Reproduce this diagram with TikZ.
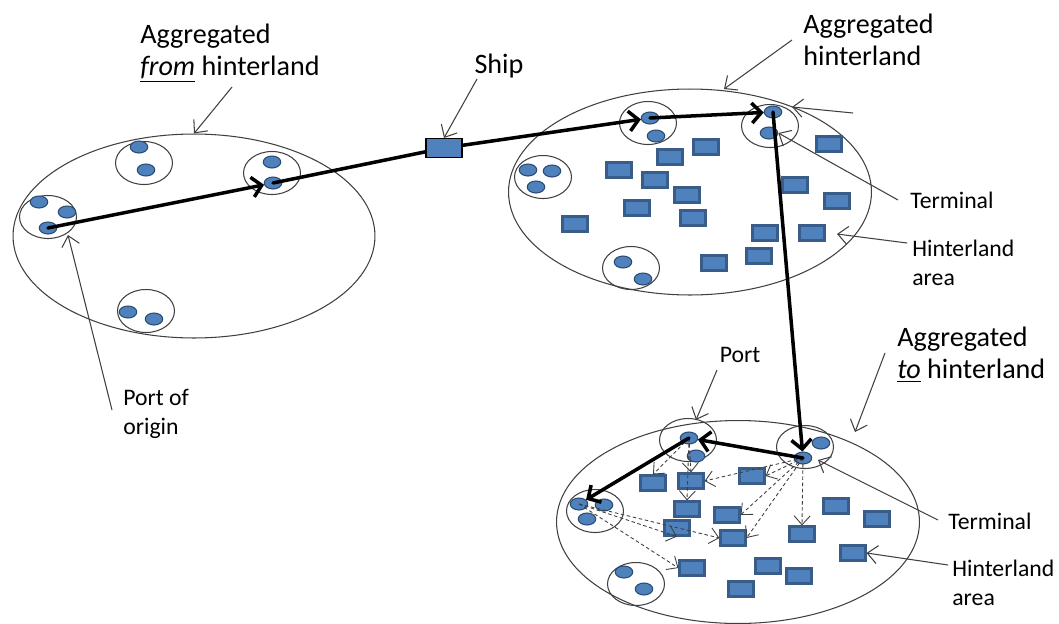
\documentclass[tikz,border=0pt]{standalone}
\usepackage{fontspec}
\setmainfont{Carlito}
\usetikzlibrary{shapes.geometric,arrows.meta}
\definecolor{dotblue}{HTML}{4F81BD}
\definecolor{boxedge}{HTML}{385D8A}
\definecolor{dotedge}{HTML}{2A4A70}
\definecolor{lineg}{HTML}{404040}
\begin{document}
\begin{tikzpicture}[x=0.02cm,y=-0.02cm,
  area/.style={ellipse,draw=lineg,line width=0.6pt,inner sep=0pt},
  port/.style={ellipse,draw=lineg,line width=0.6pt,inner sep=0pt,minimum width=1.14cm,minimum height=0.86cm},
  dot/.style={ellipse,draw=dotedge,fill=dotblue,line width=0.6pt,inner sep=0pt,minimum width=0.35cm,minimum height=0.24cm},
  box/.style={rectangle,draw=boxedge,fill=dotblue,line width=1.2pt,inner sep=0pt,minimum width=0.5cm,minimum height=0.3cm},
  labbig/.style={font=\fontsize{16}{18.2}\selectfont,align=left,inner sep=0pt},
  labsmall/.style={font=\fontsize{13.5}{16.5}\selectfont,align=left,inner sep=0pt},
  route/.style={line width=2pt,line cap=round},
  routeto/.style={route,-{Straight Barb[length=1.9mm,width=4mm]}},
  pointer/.style={draw=lineg,line width=0.6pt,-{Straight Barb[length=2mm,width=3.6mm]}},
  flow/.style={draw=black!75,line width=0.5pt,dash pattern=on 2pt off 1.5pt,-{Straight Barb[length=1.8mm,width=3.2mm]}}
]
\useasboundingbox (0,0) rectangle (1059,623);

% the three aggregated areas
\node[area,minimum width=7.24cm,minimum height=4.08cm] (fromreg) at (194,236) {};
\node[area,minimum width=7.26cm,minimum height=4.12cm] (hintreg) at (690,192) {};
\node[area,minimum width=7.26cm,minimum height=4.06cm] (toreg) at (738,522) {};

% ports and terminals
\foreach \n/\x/\y in {f1/48/217, f2/144/163, f3/272/173, f4/146/311,
                      h1/648/123, h2/770/126, h3/543/177, h4/631/268,
                      t1/688/440, t2/805/447, t3/595/511, t4/636/584}
  \node[port] (\n) at (\x,\y) {};

\foreach \n/\x/\y in {f1a/39/202, f1b/67/212, f1c/48/228, f2a/139/147, f2b/146/170,
                      f3a/272/162, f3b/273/183, f4a/128/312, f4b/154/319,
                      h1a/650/118, h1b/656/136, h2a/773/112, h2b/769/133,
                      h3a/528/170, h3b/552/171, h3c/536/187, h4a/623/262, h4b/643/279,
                      t1a/689/438, t1b/696/456, t2a/821/443, t2b/803/458,
                      t3a/579/504, t3b/604/505, t3c/587/519, t4a/624/572, t4b/644/589}
  \node[dot] (\n) at (\x,\y) {};

% hinterland locations
\foreach \n/\x/\y in {1/706/147, 2/670/157, 3/619/170, 4/655/180, 5/687/195,
                      6/637/208, 7/693/218, 8/575/224, 9/829/144, 10/795/185,
                      11/837/201, 12/765/233, 13/812/233, 14/714/263, 15/759/256}
  \node[box] (hb\n) at (\x,\y) {};

\foreach \n/\x/\y in {1/653/483, 2/691/481, 3/752/476, 4/687/509, 5/727/515,
                      6/677/528, 7/733/538, 8/802/534, 9/836/506, 10/877/519,
                      11/853/553, 12/692/568, 13/768/566, 14/799/576, 15/741/589}
  \node[box] (tb\n) at (\x,\y) {};

\node[rectangle,draw=black,fill=dotblue,line width=0.6pt,inner sep=0pt,
      minimum width=0.72cm,minimum height=0.38cm] (ship) at (444,148) {};

% distribution to the hinterland
\draw[flow] (t1a.center) -- (tb1.north);
\draw[flow] (t1a.center) -- (tb2.north);
\draw[flow] (t1a.center) -- (tb4.north);
\draw[flow] (t2b.center) -- (tb3.east);
\draw[flow] (t2b.center) -- (tb2.east);
\draw[flow] (t2b.center) -- (tb5.east);
\draw[flow] (t2b.center) -- (tb7.east);
\draw[flow] (t2b.center) -- (tb8.north);
\draw[flow] (t3a.center) -- (tb6.south);
\draw[flow] (t3a.center) -- (tb7.west);
\draw[flow] (t3a.center) -- (tb12.west);

% main route
\draw[routeto] (f1c.center) -- (f3b);
\draw[route] (f3b.center) -- (ship);
\draw[routeto] (ship) -- (h1a);
\draw[routeto] (h1a.center) -- (h2a);
\draw[routeto] (h2a.center) -- (t2b);
\draw[routeto] (t2b.center) -- (t1a);
\draw[routeto] (t1a.center) -- (t3a);

% labels
\node[labbig,anchor=west] (labA) at (140,53) {Aggregated\\\underline{\textit{from}} hinterland};
\node[labbig] (shiplab) at (499,66) {Ship};
\node[labbig,anchor=west] (labB) at (803,40) {Aggregated\\hinterland};
\node[labsmall,anchor=west] (term1) at (910,200) {Terminal};
\node[labsmall,anchor=west] (hint1) at (912,263) {Hinterland\\area};
\node[labsmall,anchor=west] (origin) at (123,414) {Port of\\origin};
\node[labsmall] (portlab) at (740,355) {Port};
\node[labbig,anchor=west] (labC) at (897,355) {Aggregated\\\underline{\textit{to}} hinterland};
\node[labsmall,anchor=west] (term2) at (948,521) {Terminal};
\node[labsmall,anchor=west] (hint2) at (952,583) {Hinterland\\area};

\coordinate (fromtail) at (232,87);
\coordinate (shiptail) at (477,79);
\coordinate (hinttail) at (792,40);
\coordinate (hinttip) at (724,89);
\coordinate (toptail) at (853,113);
\coordinate (toptip) at (792,107);
\coordinate (term1tail) at (898,200);
\coordinate (hint1tail) at (907,243);
\coordinate (hint1tip) at (837,234);
\coordinate (origintail) at (112,410);
\coordinate (origintip) at (68,235);
\coordinate (porttail) at (717,370);
\coordinate (porttip) at (696,420);
\coordinate (totail) at (885,353);
\coordinate (totip) at (855,432);
\coordinate (term2tail) at (938,520);
\coordinate (term2tip) at (818,460);
\coordinate (hint2tail) at (948,565);

\draw[pointer] (fromtail) -- (fromreg.north);
\draw[pointer] (shiptail) -- (ship.north);
\draw[pointer] (hinttail) -- (hinttip);
\draw[pointer] (toptail) -- (toptip);
\draw[pointer] (term1tail) -- (h2b.east);
\draw[pointer] (hint1tail) -- (hint1tip);
\draw[pointer] (origintail) -- (origintip);
\draw[pointer] (porttail) -- (porttip);
\draw[pointer] (totail) -- (totip);
\draw[pointer] (term2tail) -- (term2tip);
\draw[pointer] (hint2tail) -- (tb11.east);
\end{tikzpicture}
\end{document}
